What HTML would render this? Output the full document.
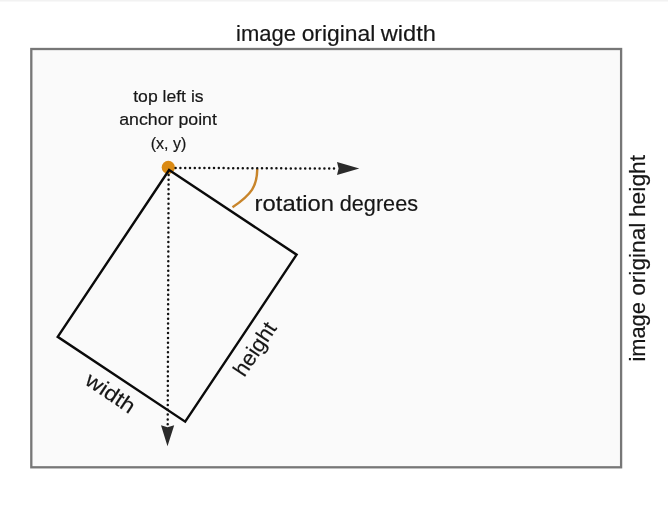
<!DOCTYPE html>
<html><head><meta charset="utf-8">
<style>
html,body{margin:0;padding:0;background:#fff;width:668px;height:519px;overflow:hidden}
svg{display:block;will-change:transform}
text{font-family:"Liberation Sans",sans-serif;fill:#161616;stroke:#161616;stroke-width:0.18px}
</style></head>
<body>
<svg width="668" height="519" viewBox="0 0 668 519">
<rect x="0" y="0" width="668" height="1.5" fill="#f2f2f2"/>
<rect x="31.3" y="49" width="589.8" height="418.3" fill="#fafafa" stroke="#777" stroke-width="2.3"/>
<g font-size="21.6">
<text x="236.07" y="40.5" textLength="59.9" lengthAdjust="spacingAndGlyphs">image</text>
<text x="301.67" y="40.5" textLength="73.71" lengthAdjust="spacingAndGlyphs">original</text>
<text x="380.8" y="40.5" textLength="55.16" lengthAdjust="spacingAndGlyphs">width</text>
<text x="254.64" y="210.5" textLength="79.51" lengthAdjust="spacingAndGlyphs">rotation</text>
<text x="339.82" y="210.5" textLength="78.17" lengthAdjust="spacingAndGlyphs">degrees</text>
<g transform="rotate(-90)">
<text x="-361.51" y="645.4" textLength="59.38" lengthAdjust="spacingAndGlyphs">image</text>
<text x="-295.82" y="645.4" textLength="73.2" lengthAdjust="spacingAndGlyphs">original</text>
<text x="-217.09" y="645.4" textLength="62.22" lengthAdjust="spacingAndGlyphs">height</text>
</g>
</g>
<text x="133.24" y="102" font-size="17" textLength="70.35" lengthAdjust="spacingAndGlyphs">top left is</text>
<text x="119.22" y="125.4" font-size="17" textLength="97.67" lengthAdjust="spacingAndGlyphs">anchor point</text>
<text x="150.73" y="149" font-size="16.5" textLength="35.69" lengthAdjust="spacingAndGlyphs">(x, y)</text>
<circle cx="168.3" cy="167.4" r="6.6" fill="#da8a14"/>
<path d="M257.3,169 C257,186 252,194 232.5,207.3" fill="none" stroke="#c8852b" stroke-width="2.4"/>
<polygon points="169.1,170 296.6,254.7 185.2,421.7 57.7,336.8" fill="none" stroke="#0a0a0a" stroke-width="2.4" stroke-linejoin="miter"/>
<line x1="175.6" y1="167.9" x2="334.0" y2="168.6" stroke="#111" stroke-width="2.5" stroke-linecap="round" stroke-dasharray="0 4.8"/>
<line x1="168.6" y1="174.9" x2="167.7" y2="424.2" stroke="#111" stroke-width="2.5" stroke-linecap="round" stroke-dasharray="0 4.7942"/>
<path d="M337,162 L359.3,168.6 L337,175 L338.6,168.5 Z" fill="#2a2a2a"/>
<path d="M161,425.3 L167.5,446.2 L174.2,425.3 L167.5,427.3 Z" fill="#2a2a2a"/>
<text transform="translate(244.3 378.1) rotate(-56.4)" x="0" y="0" font-size="21.6" textLength="60" lengthAdjust="spacingAndGlyphs">height</text>
<text transform="translate(83.8 383.6) rotate(33.8)" x="0" y="0" font-size="21" textLength="55" lengthAdjust="spacingAndGlyphs">width</text>
</svg>
</body></html>
